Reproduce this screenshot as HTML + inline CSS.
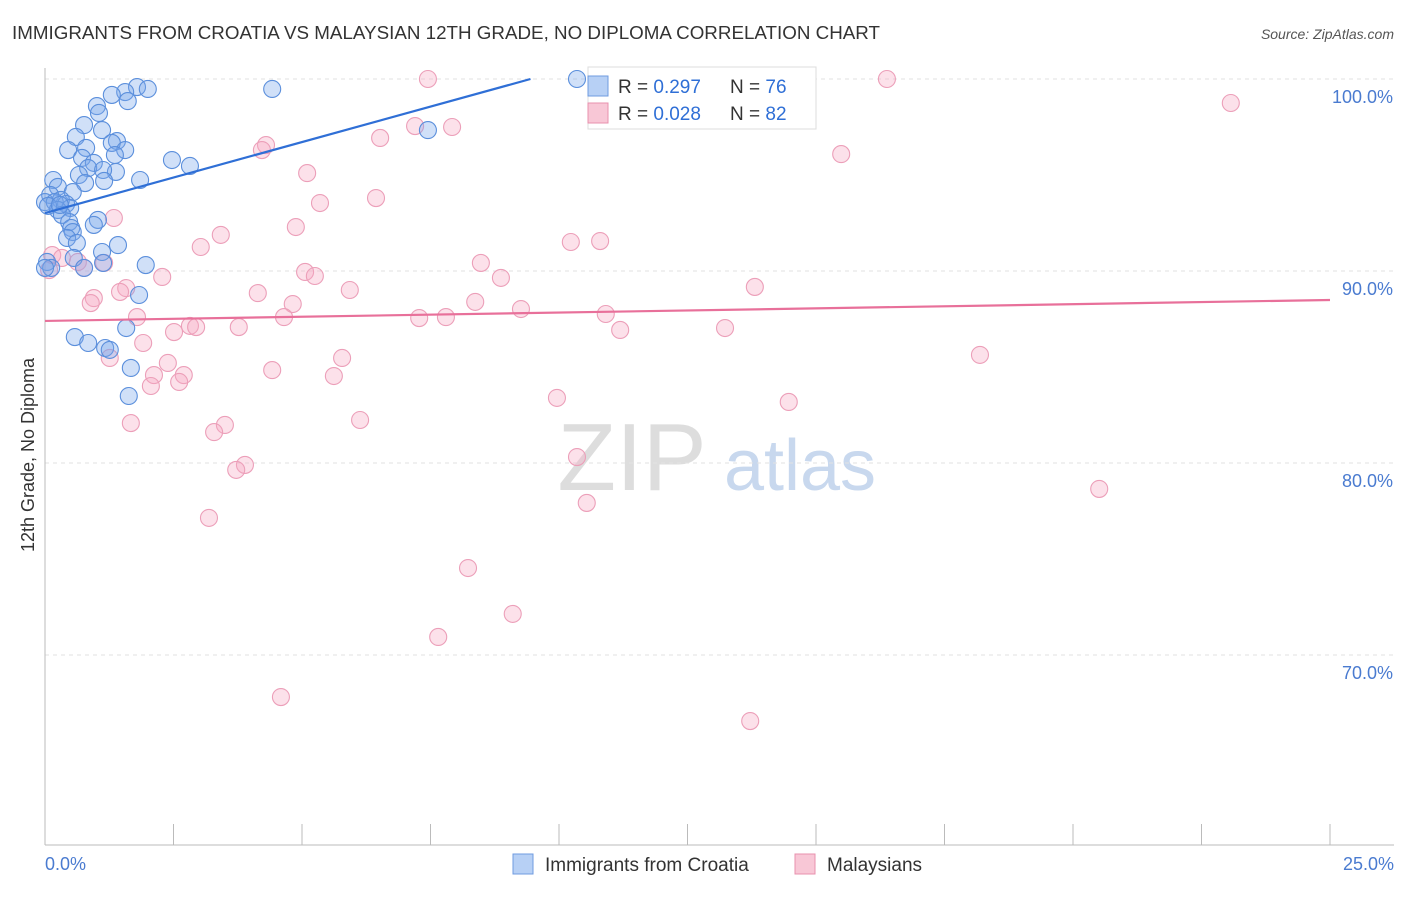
<!DOCTYPE html>
<html><head><meta charset="utf-8"><style>
body{margin:0;background:#fff;font-family:"Liberation Sans",sans-serif}
svg text{font-family:"Liberation Sans",sans-serif}
</style></head><body>
<svg id="chart" width="1406" height="892" xmlns="http://www.w3.org/2000/svg">
<text x="12" y="39" font-size="18" fill="#333" textLength="868" lengthAdjust="spacingAndGlyphs">IMMIGRANTS FROM CROATIA VS MALAYSIAN 12TH GRADE, NO DIPLOMA CORRELATION CHART</text>
<text x="1394" y="39" font-size="14" fill="#555" text-anchor="end" font-style="italic">Source: ZipAtlas.com</text>
<g><text x="632" y="490" font-size="96" fill="#ddd" font-family="Liberation Serif" text-anchor="middle">ZIP</text><text x="800" y="490" font-size="72" fill="#c8d8ee" text-anchor="middle">atlas</text></g>
<g id="grid"></g>
<g id="axes"></g>
<g id="marks"></g>
<text transform="translate(34,455) rotate(-90)" font-size="18" fill="#333" text-anchor="middle">12th Grade, No Diploma</text>
<text x="45" y="870" font-size="18" fill="#4a7bd0">0.0%</text>
<text x="1394" y="870" font-size="18" fill="#4a7bd0" text-anchor="end">25.0%</text>
<g>
<rect x="588" y="67" width="228" height="62" fill="#fff" stroke="#ddd"/>
<rect x="588" y="76" width="20" height="20" fill="#b7d0f5" stroke="#6f9be0"/>
<text x="618" y="93" font-size="19" fill="#333">R = <tspan fill="#2f6fd6">0.297</tspan></text>
<text x="730" y="93" font-size="19" fill="#333">N = <tspan fill="#2f6fd6">76</tspan></text>
<rect x="588" y="103" width="20" height="20" fill="#f8c7d6" stroke="#e890ae"/>
<text x="618" y="120" font-size="19" fill="#333">R = <tspan fill="#2f6fd6">0.028</tspan></text>
<text x="730" y="120" font-size="19" fill="#333">N = <tspan fill="#2f6fd6">82</tspan></text>
</g>
<g>
<g><rect x="513" y="854" width="20" height="20" fill="#b7d0f5" stroke="#6f9be0"/><text x="545" y="871" font-size="19" fill="#333">Immigrants from Croatia</text></g>
<g><rect x="795" y="854" width="20" height="20" fill="#f8c7d6" stroke="#e890ae"/><text x="827" y="871" font-size="19" fill="#333">Malaysians</text></g>
</g>
</svg>
<script>
const blueX=[10.35,1.79,2.00,1.56,1.30,1.61,1.01,1.05,4.42,0.76,1.11,0.60,1.40,1.30,0.45,1.56,0.80,1.36,0.72,2.47,2.82,0.95,0.84,1.38,1.13,0.66,1.15,1.85,0.16,0.78,0.25,0.54,0.10,0.31,0.00,0.19,0.41,0.49,0.25,0.33,1.03,0.47,0.95,0.51,0.54,0.43,0.62,1.42,1.11,0.56,0.04,0.12,1.96,1.13,0.76,1.83,1.58,0.58,0.84,1.17,1.26,1.67,1.63,7.45,0.00,0.06,0.29];
const blueY=[100.0,99.58,99.48,99.32,99.17,98.85,98.59,98.23,99.48,97.60,97.34,96.98,96.77,96.67,96.30,96.30,96.41,96.04,95.89,95.78,95.47,95.63,95.36,95.16,95.26,95.00,94.69,94.74,94.74,94.58,94.38,94.11,93.96,93.70,93.59,93.59,93.49,93.28,93.18,92.92,92.66,92.55,92.40,92.24,92.03,91.72,91.46,91.35,90.99,90.68,90.47,90.16,90.31,90.42,90.16,88.75,87.03,86.56,86.25,85.99,85.89,84.95,83.49,97.34,90.16,93.39,93.44];
const pinkX=[7.45,11.50,16.38,23.07,6.52,7.20,7.92,4.30,4.22,15.49,5.10,6.44,5.35,1.34,4.88,3.42,3.03,10.23,10.80,0.14,0.33,0.64,1.15,8.48,5.06,5.25,2.28,8.87,0.08,13.81,5.93,4.14,1.58,1.46,0.95,0.89,4.82,8.37,9.26,4.65,7.28,7.80,10.91,1.79,2.82,2.94,3.77,2.51,11.19,13.23,1.91,18.19,5.78,1.26,2.39,4.42,2.70,2.12,5.62,2.61,2.06,9.96,14.47,1.67,3.50,3.29,6.13,3.89,3.72,10.35,20.51,10.54,3.19,8.23,9.10,7.65,4.59,13.72,0.76];
const pinkY=[100.0,100.0,100.0,98.75,96.93,97.55,97.50,96.56,96.30,96.09,95.10,93.80,93.54,92.76,92.29,91.88,91.25,91.51,91.56,90.83,90.68,90.47,90.42,90.42,89.95,89.74,89.69,89.64,90.05,89.17,89.01,88.85,89.11,88.91,88.59,88.33,88.28,88.39,88.02,87.60,87.55,87.60,87.76,87.60,87.14,87.08,87.08,86.82,86.93,87.03,86.25,85.63,85.47,85.47,85.21,84.84,84.58,84.58,84.53,84.22,84.01,83.39,83.18,82.08,81.98,81.61,82.24,79.90,79.64,80.31,78.65,77.92,77.14,74.53,72.14,70.94,67.81,66.56,90.16];
const yTicks=[100,90,80,70];
const yTickLabels=["100.0%","90.0%","80.0%","70.0%"];
const blueTrend=[93.02,0.739];
const pinkTrend=[87.40,0.0436];
const NS="http://www.w3.org/2000/svg";
const X=v=>45+v/25*1285, Y=v=>79+(100-v)*19.2;
function mk(tag,attrs,parent){const e=document.createElementNS(NS,tag);for(const k in attrs)e.setAttribute(k,attrs[k]);parent.appendChild(e);return e;}
const grid=document.getElementById('grid'),axes=document.getElementById('axes'),marks=document.getElementById('marks');
yTicks.forEach((t,i)=>{
 const l=mk('line',{x1:45,x2:1394,y1:Y(t),y2:Y(t),stroke:'#e2e2e2','stroke-dasharray':'4,4'},grid);
 
 
 const tx=mk('text',{x:1393,y:Y(t)+24,'font-size':18,fill:'#4a7bd0','text-anchor':'end'},axes);
 tx.textContent=yTickLabels[i];
 
 
});
const ya=mk('line',{x1:45,x2:45,y1:68,y2:845,stroke:'#bbb'},axes);


const xa=mk('line',{x1:45,x2:1394,y1:845,y2:845,stroke:'#bbb'},axes);


for(let i=0;i<=10;i++){
 const t=mk('line',{x1:X(i*2.5),x2:X(i*2.5),y1:824,y2:845,stroke:'#bbb'},axes);
 
 
}
function dots(xs,ys,fill,stroke,name){
 xs.forEach((x,i)=>{
  const c=mk('circle',{cx:X(x),cy:Y(ys[i]),r:8.5,fill:fill,stroke:stroke,'stroke-width':1.1},marks);
  
  
 });
}
dots(pinkX,pinkY,'rgba(245,170,195,0.35)','#ec9fb9','malaysians-point');
dots(blueX,blueY,'rgba(120,165,235,0.35)','#5b8fdc','croatia-point');
const bEnd=(100-blueTrend[0])/blueTrend[1];
const bl=mk('line',{x1:X(0),y1:Y(blueTrend[0]),x2:X(bEnd),y2:Y(100),stroke:'#2f6fd6','stroke-width':2.2},marks);


const pl=mk('line',{x1:X(0),y1:Y(pinkTrend[0]),x2:X(25),y2:Y(pinkTrend[0]+pinkTrend[1]*25),stroke:'#e8709a','stroke-width':2.2},marks);


</script>
</body></html>
